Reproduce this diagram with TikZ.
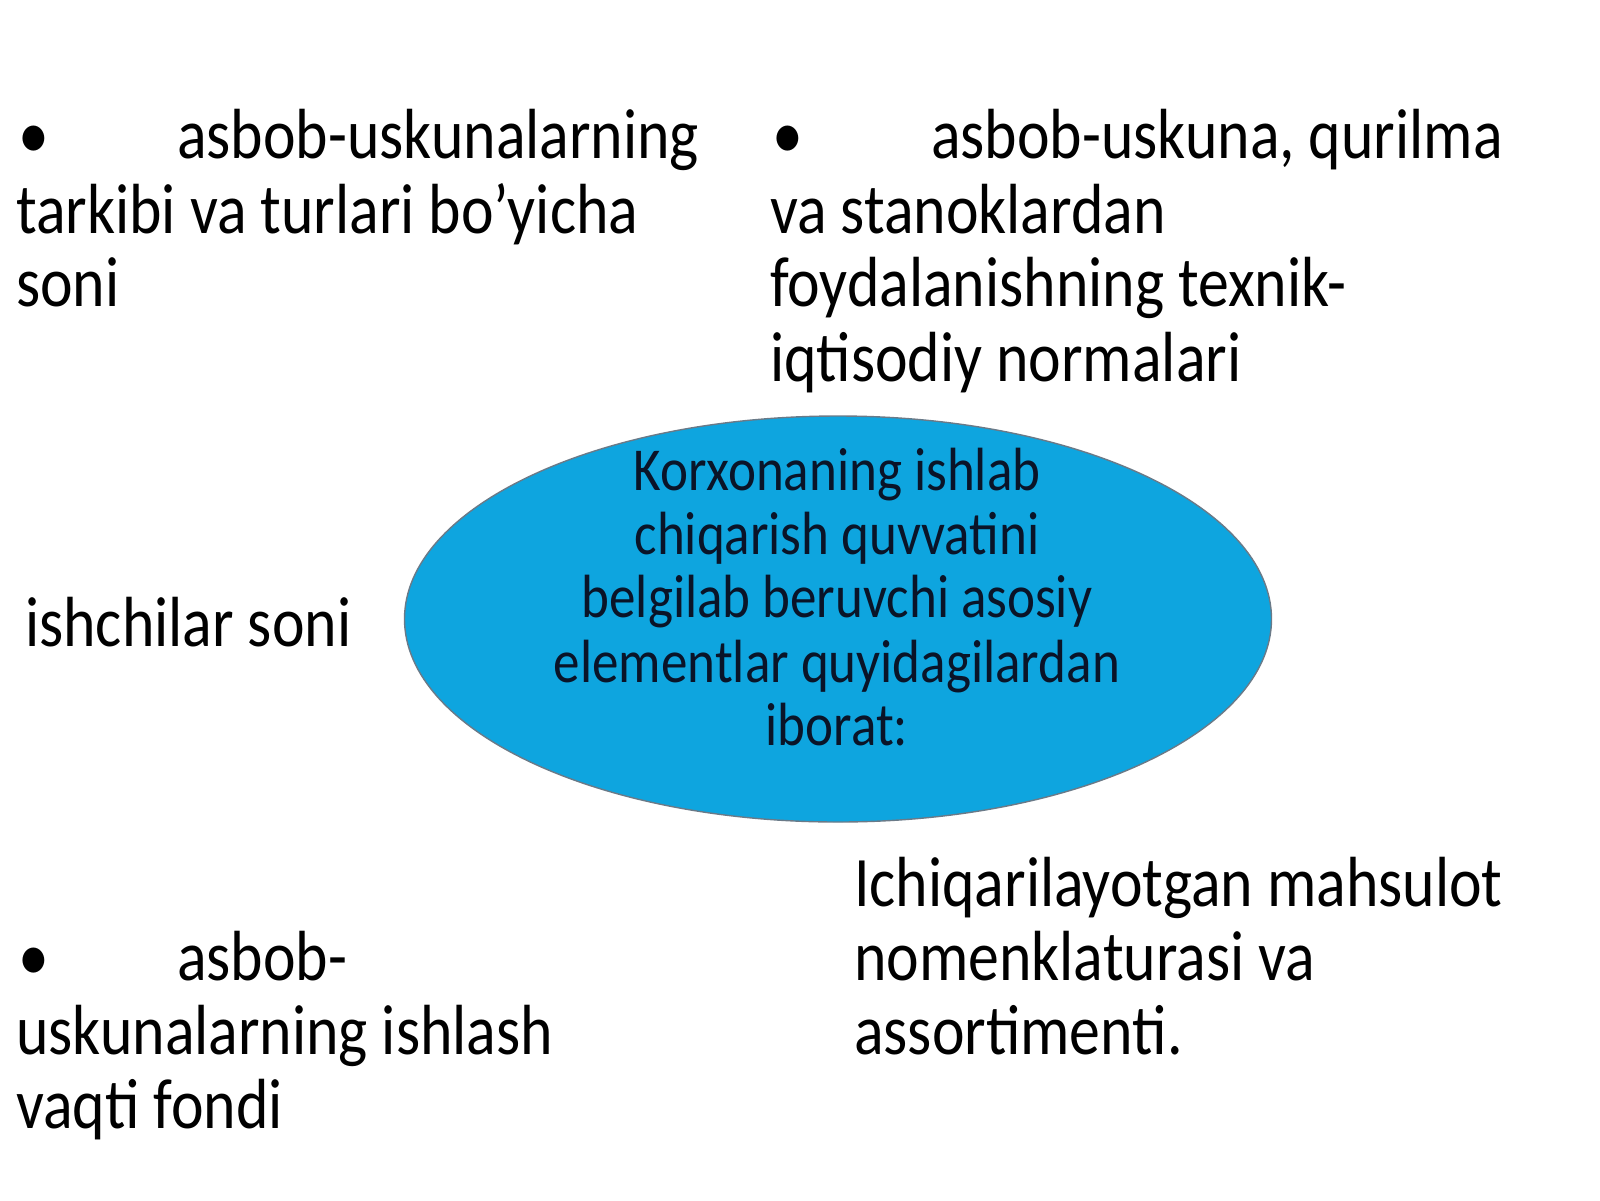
\documentclass[tikz,border=0pt]{standalone}
\usepackage{fontspec}
\setmainfont{Carlito}
\usetikzlibrary{shapes.geometric}
\definecolor{ovalfill}{HTML}{0EA5DF}
\definecolor{ovalline}{HTML}{6A7A88}
\definecolor{ovaltext}{HTML}{0A1428}
\newcommand\sqz[1]{\scalebox{0.87}[1]{#1}}
\tikzset{
  big/.style={font=\fontsize{71}{74}\selectfont, inner sep=0pt, anchor=base west, text=black},
  mid/.style={font=\fontsize{61}{64}\selectfont, inner sep=0pt, anchor=base, text=ovaltext},
  oval/.style={ellipse, draw=ovalline, line width=1.4pt, fill=ovalfill, minimum width=867pt, minimum height=406pt, inner sep=0pt}
}
\begin{document}
\begin{tikzpicture}[x=1pt,y=-1pt]
\useasboundingbox (0,0) rectangle (1600,1200);
\fill[white] (0,0) rectangle (1600,1200);
\node[oval] (ov) at (838,619) {};
% ellipse text
\node[mid] (c1) at (837,490) {\sqz{Korxonaning ishlab}};
\node[mid] (c2) at (837,554) {\sqz{chiqarish quvvatini}};
\node[mid] (c3) at (837,617) {\sqz{belgilab beruvchi asosiy}};
\node[mid] (c4) at (837,682) {\sqz{elementlar quyidagilardan}};
\node[mid] (c5) at (837,745) {\sqz{iborat:}};
% top left
\node[big] (tlb) at (18,158) {\sqz{•}};
\node[big] (tl1) at (177,158) {\sqz{asbob-uskunalarning}};
\node[big] (tl2) at (16,233) {\sqz{tarkibi va turlari bo’yicha}};
\node[big] (tl3) at (16,306) {\sqz{soni}};
% top right
\node[big] (trb) at (772,158) {\sqz{•}};
\node[big] (tr1) at (931,158) {\sqz{asbob-uskuna, qurilma}};
\node[big] (tr2) at (770,233) {\sqz{va stanoklardan}};
\node[big] (tr3) at (770,306) {\sqz{foydalanishning texnik-}};
\node[big] (tr4) at (770,381) {\sqz{iqtisodiy normalari}};
% middle left
\node[big] (ml) at (25,646) {\sqz{ishchilar soni}};
% bottom left
\node[big] (blb) at (18,980) {\sqz{•}};
\node[big] (bl1) at (177,980) {\sqz{asbob-}};
\node[big] (bl2) at (16,1054) {\sqz{uskunalarning ishlash}};
\node[big] (bl3) at (16,1128) {\sqz{vaqti fondi}};
% bottom right
\node[big] (br1) at (854,906) {\sqz{Ichiqarilayotgan mahsulot}};
\node[big] (br2) at (854,980) {\sqz{nomenklaturasi va}};
\node[big] (br3) at (854,1054) {\sqz{assortimenti.}};
\end{tikzpicture}
\end{document}
